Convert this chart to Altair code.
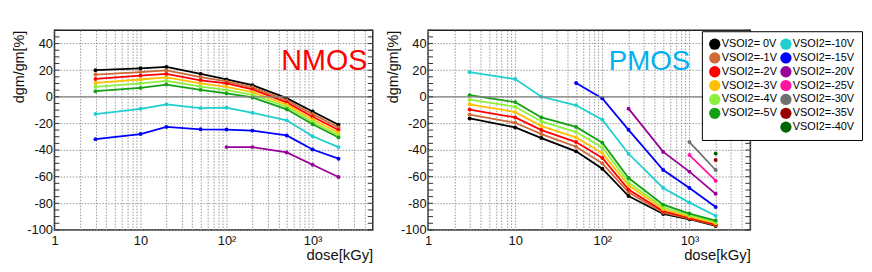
import altair as alt
import pandas as pd

# ---------------- data ----------------
dose = [3, 10, 20, 50, 100, 200, 500, 1000, 2000]

series_names = ["VSOI2= 0V", "VSOI2=-1V", "VSOI2=-2V", "VSOI2=-3V", "VSOI2=-4V",
                "VSOI2=-5V", "VSOI2=-10V", "VSOI2=-15V", "VSOI2=-20V", "VSOI2=-25V",
                "VSOI2=-30V", "VSOI2=-35V", "VSOI2=-40V"]
series_colors = ["#000000", "#CD6A35", "#FF0000", "#FFC000", "#8CF03C",
                 "#14A014", "#1FCFCF", "#0000FF", "#990099", "#FF14A0",
                 "#707070", "#990000", "#006600"]

# NMOS
nmos_0 = [20.0, 21.4, 22.4, 17.2, 13.0, 8.7, -1.0, -11.0, -21.0]
nmos_1 = [16.7, 18.6, 19.8, 14.8, 11.5, 7.1, -2.6, -13.0, -23.0]
nmos_2 = [13.4, 15.9, 17.2, 12.4, 10.0, 5.5, -4.2, -15.0, -25.0]
nmos_3 = [10.4, 13.0, 14.6, 10.0, 7.5, 3.5, -5.9, -17.0, -27.0]
nmos_4 = [7.5, 10.0, 12.0, 7.6, 5.0, 1.5, -7.6, -19.0, -29.0]
nmos_5 = [4.2, 6.7, 9.2, 5.2, 2.5, -0.5, -9.4, -20.6, -30.6]
nmos_10 = [-13.0, -9.0, -5.7, -8.5, -8.2, -12.0, -17.7, -29.6, -37.8]
nmos_15 = [-31.8, -28.0, -22.6, -24.4, -24.6, -25.4, -29.0, -39.6, -46.5]
nmos_20_dose = [100, 200, 500, 1000, 2000]
nmos_20 = [-37.8, -37.8, -41.8, -51.0, -60.2]

# PMOS
pmos_0 = [-16.3, -23.0, -31.0, -41.0, -54.0, -74.6, -88.0, -92.0, -97.0]
pmos_1 = [-13.3, -19.5, -28.0, -37.5, -50.0, -71.7, -87.0, -91.5, -96.5]
pmos_2 = [-9.6, -15.5, -25.0, -34.0, -46.0, -69.7, -86.0, -91.0, -96.0]
pmos_3 = [-5.6, -11.5, -22.0, -30.5, -42.3, -66.5, -84.5, -90.0, -95.0]
pmos_4 = [-2.2, -7.5, -18.5, -26.5, -38.0, -64.3, -83.0, -89.0, -94.0]
pmos_5 = [1.2, -4.0, -15.5, -22.6, -34.5, -61.0, -81.0, -87.7, -93.0]
pmos_10 = [18.5, 13.3, 0.0, -6.4, -17.2, -42.8, -68.5, -79.5, -89.4]
pmos_15_dose = [50, 100, 200, 500, 1000, 2000]
pmos_15 = [10.4, -1.2, -24.8, -55.0, -68.5, -82.8]
pmos_20_dose = [200, 500, 1000, 2000]
pmos_20 = [-8.9, -41.4, -56.2, -72.9]
pmos_25_dose = [1000, 2000]
pmos_25 = [-43.8, -63.0]
pmos_30_dose = [1000, 2000]
pmos_30 = [-34.0, -55.0]
pmos_35_dose = [2000]
pmos_35 = [-47.5]
pmos_40_dose = [2000]
pmos_40 = [-42.6]

y_major = [-100, -80, -60, -40, -20, 0, 20, 40]
y_minor = list(range(-100, 51, 5))
x_grid = [m * 10 ** e for e in range(0, 4) for m in range(1, 10)]
x_grid = [v for v in x_grid if v <= 5000]


def build(pairs):
    rows = []
    for name, xs, ys in pairs:
        for a, b in zip(xs, ys):
            rows.append({"series": name, "dose": a, "value": b})
    return pd.DataFrame(rows)


nmos_df = build([
    (series_names[0], dose, nmos_0), (series_names[1], dose, nmos_1),
    (series_names[2], dose, nmos_2), (series_names[3], dose, nmos_3),
    (series_names[4], dose, nmos_4), (series_names[5], dose, nmos_5),
    (series_names[6], dose, nmos_10), (series_names[7], dose, nmos_15),
    (series_names[8], nmos_20_dose, nmos_20),
])
pmos_df = build([
    (series_names[0], dose, pmos_0), (series_names[1], dose, pmos_1),
    (series_names[2], dose, pmos_2), (series_names[3], dose, pmos_3),
    (series_names[4], dose, pmos_4), (series_names[5], dose, pmos_5),
    (series_names[6], dose, pmos_10), (series_names[7], pmos_15_dose, pmos_15),
    (series_names[8], pmos_20_dose, pmos_20), (series_names[9], pmos_25_dose, pmos_25),
    (series_names[10], pmos_30_dose, pmos_30), (series_names[11], pmos_35_dose, pmos_35),
    (series_names[12], pmos_40_dose, pmos_40),
])

# legend fills column by column (7 rows): blank slot ends column 1
legend_domain = series_names[:6] + [" "] + series_names[6:]
color_of = dict(zip(series_names, series_colors))
color_of[" "] = "rgba(0,0,0,0)"
legend_range = [color_of[k] for k in legend_domain]

FONT = "Liberation Sans"
H = 202

XLABELS = ("datum.value == 1 ? '1' : datum.value == 10 ? '10' : "
           "datum.value == 100 ? '10²' : datum.value == 1000 ? '10³' : ''")


def panel(df, width, label, label_color, label_px, label_size, with_legend):
    xenc = alt.X("dose:Q",
                 scale=alt.Scale(type="log", domain=[1, 5000], nice=False),
                 axis=alt.Axis(values=x_grid, grid=True, ticks=False, domain=False,
                               labelExpr=XLABELS,
                               labelOverlap=False, labelFlush=False, labelPadding=5,
                               titleAnchor="end", titlePadding=0),
                 title="dose[kGy]")
    yenc = alt.Y("value:Q",
                 scale=alt.Scale(domain=[-100, 50], nice=False, zero=False),
                 axis=alt.Axis(values=y_major, grid=True, ticks=False, domain=False,
                               labelExpr="toString(datum.value)",
                               labelPadding=2, titleAnchor="end", titlePadding=0),
                 title="dgm/gm[%]")
    cscale = alt.Scale(domain=legend_domain, range=legend_range)
    if with_legend:
        leg = alt.Legend(orient="none", legendX=277, legendY=1, columns=2,
                         gridAlign="each",
                         symbolType="circle", symbolSize=130, symbolStrokeWidth=0,
                         labelFont=FONT, labelFontSize=11, labelColor="black",
                         fillColor="white", strokeColor="black", padding=7,
                         rowPadding=2, columnPadding=3, labelOffset=1,
                         labelLimit=0, title=None, symbolOpacity=1)
        cenc = alt.Color("series:N", scale=cscale, legend=leg)
    else:
        cenc = alt.Color("series:N", scale=cscale, legend=None)

    base = alt.Chart(df)
    lines = base.mark_line(strokeWidth=1.8).encode(x=xenc, y=yenc, color=cenc)
    pts = base.mark_circle(size=16, opacity=1).encode(x=xenc, y=yenc, color=cenc)
    zero = alt.Chart(pd.DataFrame({"value": [0]})).mark_rule(
        color="#808080", strokeWidth=1.3).encode(y=yenc)
    tdf = pd.DataFrame({"value": y_minor})
    ticks_l = alt.Chart(tdf).mark_rule(color="#333", strokeWidth=1).encode(
        y=yenc, x=alt.value(0), x2=alt.value(5))
    ticks_r = alt.Chart(tdf).mark_rule(color="#333", strokeWidth=1).encode(
        y=yenc, x=alt.value(width - 5), x2=alt.value(width))
    txt = alt.Chart(pd.DataFrame({"t": [label]})).mark_text(
        font=FONT, fontSize=label_size, color=label_color, align="center", baseline="middle"
    ).encode(text="t:N", x=alt.value(label_px[0]), y=alt.value(label_px[1]))
    return alt.layer(lines, pts, zero, ticks_l, ticks_r, txt).properties(width=width, height=H)


left = panel(nmos_df, 322, "NMOS", "#FF0000", (273, 31), 29, False)
right = panel(pmos_df, 326, "PMOS", "#00B0F0", (224, 32), 28, True)

chart = alt.hconcat(left, right, spacing=10).resolve_legend(color="independent").properties(
    padding={"left": 3, "top": 19, "right": 0, "bottom": 0}
).configure_view(stroke="#222", strokeWidth=1.5).configure_axis(
    labelFont=FONT, labelFontSize=13, labelColor="#111",
    titleFont=FONT, titleFontSize=15, titleFontWeight="normal", titleColor="#111",
    gridColor="#999", gridDash=[1.5, 1.5], gridWidth=1, gridOpacity=1,
).configure_axisY(titleFontSize=14.5)

chart.save("out.html", embed_options={"renderer": "svg", "actions": False})
